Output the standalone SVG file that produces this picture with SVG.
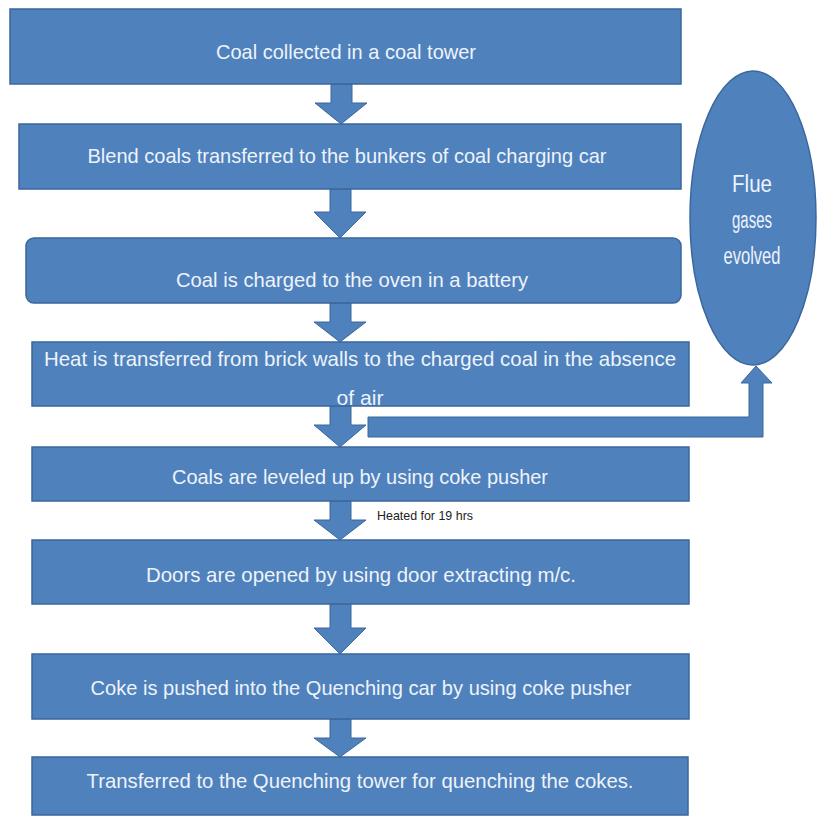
<svg xmlns="http://www.w3.org/2000/svg" width="818" height="818" viewBox="0 0 818 818">
<style>
.box{fill:#4F81BD;stroke:#3A679C;stroke-width:1.5}
.arr{fill:#4F81BD;stroke:#3A679C;stroke-width:1}
.t{font-family:"Liberation Sans Narrow","Liberation Sans",Arial,sans-serif;font-size:21px;fill:#EEF3FA;text-anchor:middle}
.e{font-family:"Liberation Sans Narrow","Liberation Sans",Arial,sans-serif;font-size:23px;fill:#EEF3FA;text-anchor:middle}
.lbl{font-family:"Liberation Sans Narrow","Liberation Sans",Arial,sans-serif;font-size:13px;fill:#222}
</style>
<rect width="818" height="818" fill="#FFFFFF"/>
<g id="connectors">
<polygon class="arr" points="331,84 352,84 352,103 367,103 341,124 315,103 331,103"/>
<polygon class="arr" points="330,189 351,189 351,212 366,212 340,238 314,212 330,212"/>
<polygon class="arr" points="330,303 351,303 351,322 366,322 340,342 314,322 330,322"/>
<polygon class="arr" points="330,406 351,406 351,425 366,425 340,447 314,425 330,425"/>
<polygon class="arr" points="330,501 351,501 351,520 366,520 340,540 314,520 330,520"/>
<polygon class="arr" points="330,604 351,604 351,628 366,628 340,654 314,628 330,628"/>
<polygon class="arr" points="330,719 351,719 351,738 366,738 340,757 314,738 330,738"/>
<polygon class="arr" points="368,417 749,417 749,383 741,383 756,366 772,383 763,383 763,437 368,437"/>
<text class="lbl" x="377" y="520" textLength="96" lengthAdjust="spacingAndGlyphs">Heated for 19 hrs</text>
</g>
<g id="node1">
<rect class="box" x="10" y="9" width="671" height="75"/>
<text class="t" x="346" y="59" textLength="260" lengthAdjust="spacingAndGlyphs">Coal collected in a coal tower</text>
</g>
<g id="node2">
<rect class="box" x="19" y="124" width="662" height="65"/>
<text class="t" x="347" y="163" textLength="519" lengthAdjust="spacingAndGlyphs">Blend coals transferred to the bunkers of coal charging car</text>
</g>
<g id="node3">
<rect class="box" x="26" y="238" width="655" height="65" rx="8" ry="8"/>
<text class="t" x="352" y="287" textLength="352" lengthAdjust="spacingAndGlyphs">Coal is charged to the oven in a battery</text>
</g>
<g id="node4">
<rect class="box" x="32" y="342" width="657" height="64"/>
<text class="t" x="360" y="366" textLength="632" lengthAdjust="spacingAndGlyphs">Heat is transferred from brick walls to the charged coal in the absence</text>
<text class="t" x="360" y="405" textLength="47" lengthAdjust="spacingAndGlyphs">of air</text>
</g>
<g id="node5">
<rect class="box" x="32" y="447" width="657" height="54"/>
<text class="t" x="360" y="484" textLength="376" lengthAdjust="spacingAndGlyphs">Coals are leveled up by using coke pusher</text>
</g>
<g id="node6">
<rect class="box" x="32" y="540" width="657" height="64"/>
<text class="t" x="361" y="582" textLength="430" lengthAdjust="spacingAndGlyphs">Doors are opened by using door extracting m/c.</text>
</g>
<g id="node7">
<rect class="box" x="32" y="654" width="657" height="65"/>
<text class="t" x="361" y="695" textLength="541" lengthAdjust="spacingAndGlyphs">Coke is pushed into the Quenching car by using coke pusher</text>
</g>
<g id="node8">
<rect class="box" x="32" y="757" width="656" height="58"/>
<text class="t" x="360" y="788" textLength="547" lengthAdjust="spacingAndGlyphs">Transferred to the Quenching tower for quenching the cokes.</text>
</g>
<g id="node9">
<ellipse class="box" cx="753" cy="218" rx="63" ry="147"/>
<text class="e" x="752" y="192" textLength="40" lengthAdjust="spacingAndGlyphs">Flue</text>
<text class="e" x="752" y="228" textLength="40" lengthAdjust="spacingAndGlyphs">gases</text>
<text class="e" x="752" y="264" textLength="57" lengthAdjust="spacingAndGlyphs">evolved</text>
</g>
</svg>
